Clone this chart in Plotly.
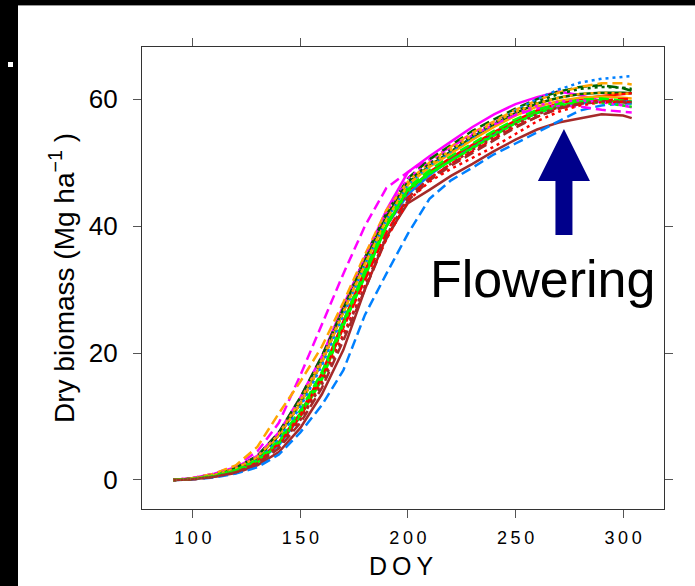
import plotly.graph_objects as go

# ---------------- data ----------------
doy = [91, 100, 110, 120, 130, 140, 150, 160, 170, 180, 190, 200,
       210, 220, 230, 240, 250, 260, 270, 280, 290, 300, 304]

# solid lines
blue_solid = [0, 0.2, 0.6, 1.3, 2.8, 5.5, 10, 16.5, 24.5, 32.5, 40, 45, 48, 50.5, 52.5, 54.5, 56.3, 57.8, 58.8, 59.3, 59.6, 59.7, 59.6]
magenta_solid = [0, 0.3, 1.0, 2.0, 3.8, 7.5, 13, 19.5, 27.5, 35, 42.5, 48.5, 51.0, 53.3, 55.6, 57.6, 59.2, 60.3, 61.2, 60.6, 59.7, 59.0, 58.7]
dkgreen_solid = [0, 0.2, 0.8, 1.8, 3.5, 7, 12, 18.5, 26.5, 34.5, 41.5, 46.8, 49.5, 51.8, 54, 56, 57.8, 59.3, 60.2, 60.8, 61, 61, 60.9]
red_solid = [0, 0.2, 0.7, 1.5, 3, 6, 10.5, 16.8, 25, 33, 40, 45.5, 48.5, 50.8, 52.8, 54.8, 56.6, 58.2, 59.3, 60, 60.5, 60.8, 60.9]
orange_solid = [0, 0.2, 0.8, 1.8, 3.6, 7, 12, 18.5, 26.5, 34, 41, 46.5, 49.3, 51.5, 53.6, 55.6, 57.4, 58.8, 59.7, 60.2, 60.4, 60.2, 60.1]
green_solid = [0, 0.2, 0.6, 1.4, 2.7, 5.8, 10, 15.8, 24.3, 32, 40, 45.8, 48.3, 50.3, 52.3, 54.3, 56.2, 57.8, 58.9, 59.6, 59.8, 59.5, 59.3]
brown_solid = [0, 0.1, 0.5, 1.1, 2.3, 4.4, 8.2, 13.5, 20.5, 30, 38.3, 43.6, 45.7, 47.9, 49.8, 51.8, 53.6, 55.2, 56.3, 57.0, 57.6, 57.4, 57.0]

# dashed lines
blue_dashed = [0, 0.1, 0.4, 1.0, 2.0, 4.0, 7.5, 11.8, 17.3, 26, 32.5, 38.8, 44.3, 47.2, 49.2, 51.3, 53.0, 54.8, 56.5, 58.2, 59.0, 59.3, 59.3]
magenta_dashed = [0, 0.3, 1.0, 2.2, 4.5, 9, 16.5, 24.5, 32.5, 40, 46, 48.5, 50.5, 52.5, 54.3, 56, 57.5, 58.5, 59.0, 58.8, 58.3, 58.0, 57.9]
dkgreen_dashed = [0, 0.2, 0.8, 1.9, 3.8, 7.5, 13, 19.5, 27, 35, 42, 47.5, 50.5, 52.8, 55, 56.8, 58.5, 60, 61.2, 61.9, 62.2, 61.7, 61.3]
red_dashed = [0, 0.2, 0.6, 1.4, 2.8, 5.8, 10, 16.3, 24, 31.5, 39, 44.5, 47.5, 49.8, 51.8, 53.8, 55.7, 57.2, 58.5, 59.3, 59.8, 60, 60]
orange_dashed = [0, 0.3, 1.0, 2.3, 5.2, 10.5, 15.5, 21, 28, 35.5, 42.5, 47, 50, 52.5, 54.7, 56.5, 58.3, 59.8, 61, 61.9, 62.5, 62.5, 62.3]
green_dashed = [0, 0.2, 0.7, 1.6, 3.2, 6.3, 11, 17, 25, 33, 40.5, 46, 48.8, 51, 53, 55, 56.8, 58.3, 59.3, 59.9, 60.1, 59.8, 59.6]
brown_dashed = [0, 0.1, 0.5, 1.2, 2.5, 5, 9, 14.5, 22, 30, 38, 44, 47.2, 49.5, 51.5, 53.5, 55.5, 57.2, 58.5, 59.2, 59.6, 59.5, 59.3]

# dotted lines
blue_dotted = [0, 0.2, 0.7, 1.6, 3.3, 6.5, 11.5, 18, 26, 34, 41, 46.5, 49.5, 51.8, 54, 56.2, 58.2, 60, 61.5, 62.6, 63.2, 63.5, 63.6]
magenta_dotted = [0, 0.3, 0.9, 1.9, 3.7, 7.2, 12.5, 19, 27, 35, 42, 47.5, 50, 52.3, 54.5, 56.3, 57.9, 59, 59.6, 59.8, 59.5, 59, 58.8]
dkgreen_dotted = [0, 0.2, 0.8, 1.8, 3.5, 7, 12.3, 19, 27, 34.5, 41.5, 47, 49.8, 52, 54.2, 56.2, 58, 59.6, 60.8, 61.6, 61.9, 61.8, 61.6]
red_dotted = [0, 0.2, 0.6, 1.3, 2.7, 5.5, 9.5, 15.5, 23, 30.5, 38, 44, 47, 49, 50.8, 52.5, 54.5, 56.5, 58, 59, 59.5, 59.6, 59.5]
orange_dotted = [0, 0.2, 0.8, 1.8, 3.6, 7.2, 12.5, 19, 26.5, 34, 41, 46.5, 49.5, 52, 54.3, 56.3, 58, 59.3, 60.2, 60.8, 61, 60.9, 60.8]
green_dotted = [0, 0.2, 0.6, 1.5, 3, 6, 10.5, 16.5, 24.5, 32.5, 40, 45.5, 48.2, 50.3, 52.4, 54.5, 56.3, 57.8, 58.9, 59.5, 59.4, 59, 58.8]
brown_dotted = [0, 0.1, 0.5, 1.2, 2.6, 5.2, 9.5, 15, 22.5, 30.5, 38.5, 44.5, 47.5, 49.8, 52, 54, 56, 57.6, 58.7, 59.3, 59.6, 59.6, 59.5]

x_ticks = [100, 150, 200, 250, 300]
y_ticks = [0, 20, 40, 60]

# ---------------- styling ----------------
colors = {"blue": "#0080ff", "magenta": "#ff00ff", "dkgreen": "darkgreen",
          "red": "#ff0000", "orange": "orange", "green": "#00ff00", "brown": "brown"}
dashes = {"solid": "solid", "dashed": "10px,5px", "dotted": "3px,4px"}

series = [
    ("blue", "solid", blue_solid), ("magenta", "solid", magenta_solid),
    ("dkgreen", "solid", dkgreen_solid), ("red", "solid", red_solid),
    ("orange", "solid", orange_solid), ("green", "solid", green_solid),
    ("brown", "solid", brown_solid),
    ("blue", "dashed", blue_dashed), ("magenta", "dashed", magenta_dashed),
    ("dkgreen", "dashed", dkgreen_dashed), ("red", "dashed", red_dashed),
    ("orange", "dashed", orange_dashed), ("green", "dashed", green_dashed),
    ("brown", "dashed", brown_dashed),
    ("blue", "dotted", blue_dotted), ("magenta", "dotted", magenta_dotted),
    ("dkgreen", "dotted", dkgreen_dotted), ("red", "dotted", red_dotted),
    ("orange", "dotted", orange_dotted), ("green", "dotted", green_dotted),
    ("brown", "dotted", brown_dotted),
]

W, H = 695, 586
ML, MR, MT, MB = 142, 31, 47, 77
PW, PH = W - ML - MR, H - MT - MB


def px(xp):
    return (xp - ML) / PW


def py(yp):
    return (H - MB - yp) / PH


fig = go.Figure()
for cname, dname, vals in series:
    fig.add_trace(go.Scatter(
        x=doy, y=vals, mode="lines",
        line=dict(color=colors[cname], width=2.5, dash=dashes[dname]),
        showlegend=False, hoverinfo="skip"))

FONT = "Liberation Sans, Arial, sans-serif"
THIN = "\u2009"

fig.update_xaxes(
    range=[76.4, 319], tickmode="array", tickvals=x_ticks,
    ticktext=[THIN.join(str(v)) for v in x_ticks],
    ticks="outside", ticklen=8, tickwidth=1, tickcolor="#555",
    showline=True, linecolor="#333", linewidth=1.3, mirror="ticks",
    showgrid=False, zeroline=False,
    tickfont=dict(family=FONT, size=18, color="black"), ticklabelstandoff=4)
fig.update_yaxes(
    range=[-4.57, 68.2], tickmode="array", tickvals=y_ticks,
    ticks="outside", ticklen=8, tickwidth=1, tickcolor="#555",
    showline=True, linecolor="#333", linewidth=1.3, mirror="ticks",
    showgrid=False, zeroline=False,
    tickfont=dict(family=FONT, size=26, color="black"), ticklabelstandoff=10)

# arrow (data coordinates)
ax_c, ax_hw, ax_sw = 272.5, 12.1, 3.95
ay_bot, ay_base, ay_tip = 38.6, 47.1, 55.3
arrow = (f"M {ax_c-ax_sw} {ay_bot} L {ax_c+ax_sw} {ay_bot} L {ax_c+ax_sw} {ay_base} "
         f"L {ax_c+ax_hw} {ay_base} L {ax_c} {ay_tip} L {ax_c-ax_hw} {ay_base} "
         f"L {ax_c-ax_sw} {ay_base} Z")

shapes = [
    dict(type="path", path=arrow, xref="x", yref="y", fillcolor="#00008b",
         line=dict(width=0)),
    # black frame of the screenshot
    dict(type="rect", xref="paper", yref="paper", x0=px(0), x1=px(18), y0=py(H), y1=py(0),
         fillcolor="black", line=dict(width=0), layer="above"),
    dict(type="rect", xref="paper", yref="paper", x0=px(0), x1=px(W), y0=py(5), y1=py(0),
         fillcolor="black", line=dict(width=0), layer="above"),
    dict(type="line", xref="paper", yref="paper", x0=px(18), x1=px(W), y0=py(5.5), y1=py(5.5),
         line=dict(color="#999", width=1)),
    dict(type="rect", xref="paper", yref="paper", x0=px(8), x1=px(13), y0=py(67), y1=py(62),
         fillcolor="white", line=dict(width=0), layer="above"),
]

annotations = [
    dict(text="Flowering", xref="paper", yref="paper", x=px(542), y=py(279),
         xanchor="center", yanchor="middle", showarrow=False,
         font=dict(family=FONT, size=52, color="black")),
    dict(text=THIN.join("DOY"), xref="paper", yref="paper", x=px(401), y=py(566),
         xanchor="center", yanchor="middle", showarrow=False,
         font=dict(family=FONT, size=25, color="black")),
    dict(text="Dry biomass (Mg ha<sup>\u22121</sup> )", xref="paper", yref="paper",
         x=px(62), y=py(278), xanchor="center", yanchor="middle", textangle=-90,
         showarrow=False, font=dict(family=FONT, size=28, color="black")),
]

fig.update_layout(
    width=W, height=H, template="none",
    margin=dict(l=ML, r=MR, t=MT, b=MB, pad=0),
    paper_bgcolor="white", plot_bgcolor="white",
    shapes=shapes, annotations=annotations, showlegend=False)

fig.write_html("out.html", config={"displayModeBar": False},
               post_script="document.body.style.margin='0';")
